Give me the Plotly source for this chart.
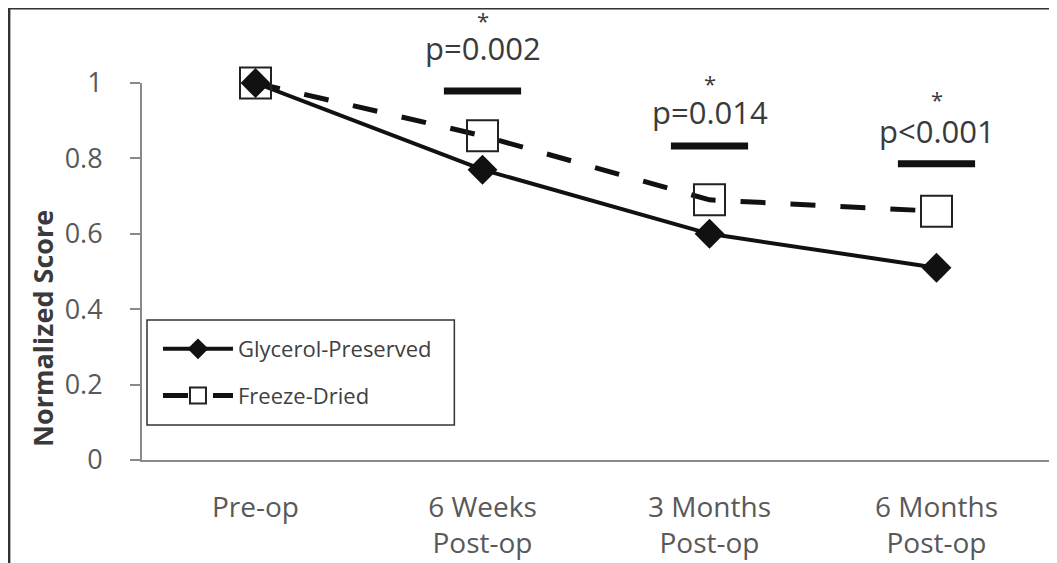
import plotly.graph_objects as go

categories = ["Pre-op", "6 Weeks<br>Post-op", "3 Months<br>Post-op", "6 Months<br>Post-op"]
glycerol = [1.0, 0.77, 0.60, 0.51]
freeze_dried = [1.0, 0.86, 0.69, 0.66]
y_ticks = [0, 0.2, 0.4, 0.6, 0.8, 1.0]
y_ticktext = ["0", "0.2", "0.4", "0.6", "0.8", "1"]

sig_index = [1, 2, 3]
p_labels = ["p=0.002", "p=0.014", "p<0.001"]
p_label_y = [1.093, 0.923, 0.873]
star_y = [1.166, 1.0, 0.958]
bar_y = [0.979, 0.833, 0.786]
bar_half = 0.17

xpos = list(range(len(categories)))

fig = go.Figure()
fig.add_trace(go.Scatter(
    x=xpos, y=glycerol, name="Glycerol-Preserved", mode="lines+markers",
    line=dict(color="#111111", width=4),
    marker=dict(symbol="diamond", size=23, color="#111111"),
    legendgroup="a", cliponaxis=False))
fig.add_trace(go.Scatter(
    x=xpos, y=freeze_dried, name="Freeze-Dried", mode="lines+markers",
    line=dict(color="#111111", width=5, dash="25px,25px"),
    marker=dict(symbol="square-open", size=31, color="#222222", line=dict(width=2)),
    legendgroup="b", cliponaxis=False))

for i, by in zip(sig_index, bar_y):
    fig.add_trace(go.Scatter(
        x=[i - bar_half, i + bar_half], y=[by, by], mode="lines",
        line=dict(color="#111111", width=7), showlegend=False,
        hoverinfo="skip", cliponaxis=False))

annotations = []
for i, t, ty, sy in zip(sig_index, p_labels, p_label_y, star_y):
    annotations.append(dict(x=i, y=ty, xref="x", yref="paper", text=t, showarrow=False,
                            yanchor="middle", font=dict(size=31, color="#3a3a3a", family="Open Sans")))
    annotations.append(dict(x=i, y=sy, xref="x", yref="paper", text="*", showarrow=False,
                            yanchor="middle", font=dict(size=22, color="#3a3a3a", family="Open Sans")))

# y-axis title (placed as rotated text, centred where the original sits)
annotations.append(dict(x=-0.1103, y=0.35, xref="paper", yref="paper",
                        text="<b>Normalized Score</b>", textangle=-90, showarrow=False,
                        xanchor="center", yanchor="middle",
                        font=dict(size=27, color="#3a3a3a", family="Open Sans")))

fig.update_layout(
    width=1049, height=563,
    margin=dict(l=134, r=7, t=75, b=111, autoexpand=False),
    paper_bgcolor="white", plot_bgcolor="white",
    font=dict(family="Open Sans", color="#595959"),
    showlegend=True,
    legend=dict(x=0.0176, y=0.350, xanchor="left", yanchor="top",
                borderwidth=0, bgcolor="rgba(0,0,0,0)",
                font=dict(size=22, color="#404040"), tracegroupgap=15,
                itemwidth=70),
    annotations=annotations,
    xaxis=dict(range=[-0.5, 3.5], tickvals=xpos, ticktext=categories,
               showgrid=False, zeroline=False, showline=True, linecolor="#8a8a8a",
               linewidth=2, ticks="", tickfont=dict(size=28, color="#595959"),
               ticklabelstandoff=21, automargin=False),
    yaxis=dict(range=[0, 1], tickvals=y_ticks, ticktext=y_ticktext,
               showgrid=False, zeroline=False, showline=True, linecolor="#8a8a8a",
               linewidth=2, ticks="outside", ticklen=10, tickcolor="#8a8a8a", tickwidth=2,
               tickfont=dict(size=27, color="#595959"), ticklabelstandoff=22,
               automargin=False),
    shapes=[
        dict(type="rect", xref="paper", yref="paper",
             x0=-0.1466, x1=1.03, y0=-0.35, y1=1.199,
             line=dict(color="#333333", width=3), layer="below"),
        dict(type="rect", xref="paper", yref="paper",
             x0=0.0055, x1=0.3440, y0=0.0928, y1=0.3714,
             line=dict(color="#333333", width=1.5), fillcolor="white", layer="below"),
    ],
)

fig.write_html("out.html")
